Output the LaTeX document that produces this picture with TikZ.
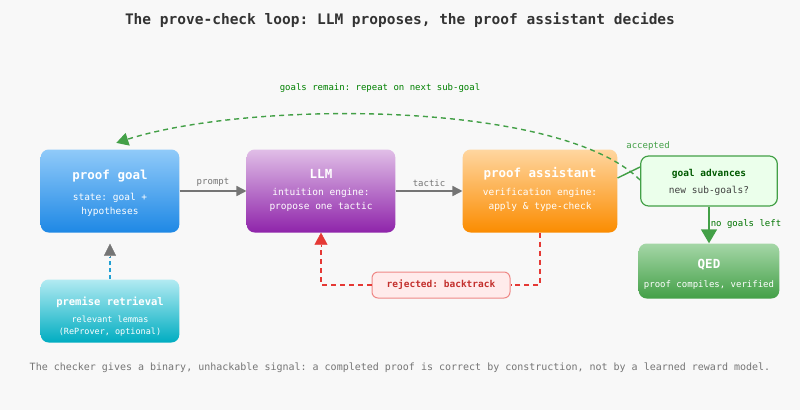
\documentclass[tikz,border=0pt]{standalone}
\usepackage{fontspec}
\setmonofont{DejaVu Sans Mono}
\renewcommand{\familydefault}{\ttdefault}
\usetikzlibrary{arrows.meta}
\usetikzlibrary{calc}
\definecolor{bgc}{HTML}{F8F8F8}
\definecolor{greenc}{HTML}{43A047}
\definecolor{redc}{HTML}{E53935}
\definecolor{greyc}{HTML}{757575}
\tikzset{
  stage/.style={rounded corners=8pt, minimum height=83pt, text width=132pt, align=center, text=white},
  ttl/.style={font=\fontsize{12.5}{14}\selectfont\bfseries},
  sub/.style={font=\fontsize{9.5}{13.5}\selectfont},
  lbl/.style={font=\fontsize{9}{11}\selectfont},
  flow/.style={draw=greyc, line width=1.6pt, -{Triangle[length=10pt,width=10pt]}},
}
\begin{document}
\begin{tikzpicture}[x=1pt,y=-1pt]
    \fill[bgc] (0,0) rectangle (800,410);
    \node[font=\fontsize{14.5}{16}\selectfont\bfseries, text=black!80] (title) at (400,20) {The prove-check loop: LLM proposes, the proof assistant decides};
    % stages
    \node[stage, top color={rgb,255:red,144;green,202;blue,249}, bottom color={rgb,255:red,30;green,136;blue,229}] (goal) at (110,191) {};
    \node[stage, text width=142pt, top color={rgb,255:red,225;green,190;blue,231}, bottom color={rgb,255:red,142;green,36;blue,170}] (llm) at (321,191) {};
    \node[stage, text width=148pt, top color={rgb,255:red,255;green,214;blue,160}, bottom color={rgb,255:red,251;green,140;blue,0}] (pa) at (540,191) {};
    \node[stage, minimum height=63pt, top color={rgb,255:red,178;green,235;blue,242}, bottom color={rgb,255:red,0;green,172;blue,193}] (prem) at (110,311) {};
    \node[stage, minimum height=55pt, text width=134pt, top color={rgb,255:red,165;green,214;blue,167}, bottom color={rgb,255:red,67;green,160;blue,71}] (qed) at (709,271) {};
    \node[rounded corners=8pt, draw=greenc, line width=1.2pt, fill=green!8, minimum height=50pt, text width=130pt] (adv) at (709,181) {};
    \node[rounded corners=6pt, draw=redc!60, line width=1pt, fill=red!8, minimum height=26pt, minimum width=138pt] (rej) at (441,285) {};
    % texts
    \node[ttl, text=white] at (110,176) {proof goal};
    \node[sub, text=white, align=center] at (110,205) {state: goal +\\hypotheses};
    \node[ttl, text=white] at (321,174) {LLM};
    \node[sub, text=white, align=center] at (321,200) {intuition engine:\\propose one tactic};
    \node[ttl, text=white] at (540,174) {proof assistant};
    \node[sub, text=white, align=center] at (540,200) {verification engine:\\apply \& type-check};
    \node[ttl, font=\fontsize{10.5}{12}\selectfont\bfseries, text=white] at (110,302) {premise retrieval};
    \node[sub, text=white, align=center, font=\fontsize{8.5}{11.5}\selectfont] at (110,326) {relevant lemmas\\(ReProver, optional)};
    \node[ttl, text=white] at (709,265) {QED};
    \node[sub, text=white, font=\fontsize{9}{11}\selectfont] at (709,285) {proof compiles, verified};
    \node[font=\fontsize{9.5}{11}\selectfont\bfseries, text=green!35!black] at (709,174) {goal advances};
    \node[sub, text=black!75] at (709,191) {new sub-goals?};
    \node[font=\fontsize{9.5}{11}\selectfont\bfseries, text=redc!85!black] at (rej) {rejected: backtrack};
    % connectors
    \draw[flow] (goal.east) -- node[above, lbl, text=greyc] {prompt} (llm.west);
    \draw[flow] (llm.east) -- node[above, lbl, text=greyc] {tactic} (pa.west);
    \draw[greenc, line width=1.4pt] (pa.east |- 0,178) -- (adv.west |- 0,167);
    \node[lbl, text=greenc] at (648,146) {accepted};
    \draw[greenc, line width=1.4pt, dash pattern=on 5pt off 4pt, -{Triangle[length=12pt,width=13pt,sep]}]
      (adv.west |- 0,180) .. controls (560,100) and (250,100) .. ($(goal.north)+(5,-6)$);
    \node[lbl, text=green!50!black] at (380,88) {goals remain: repeat on next sub-goal};
    \draw[greenc, line width=1.6pt, -{Triangle[length=14pt,width=16pt]}] (adv.south) -- (qed.north);
    \node[lbl, text=green!45!black] at (746,224) {no goals left};
    \draw[redc, line width=1.4pt, dash pattern=on 5pt off 4pt] (pa.south) |- (rej.east);
    \draw[redc, line width=1.4pt, dash pattern=on 5pt off 4pt] (rej.west) -| ($(llm.south)+(0,14)$) coordinate (rt);
    \draw[redc, -{Triangle[length=12pt,width=13pt]}] (rt) -- (llm.south);
    \draw[cyan!70!teal, line width=1.4pt, dash pattern=on 4pt off 3pt] (prem.north) -- ++(0,-22) coordinate (pt);
    \draw[greyc, -{Triangle[length=12pt,width=12pt]}] (pt) -- ($(goal.south)+(0,11)$);
    \node[lbl, text=greyc, font=\fontsize{10}{12}\selectfont] (note) at (400,368) {The checker gives a binary, unhackable signal: a completed proof is correct by construction, not by a learned reward model.};
\end{tikzpicture}
\end{document}
